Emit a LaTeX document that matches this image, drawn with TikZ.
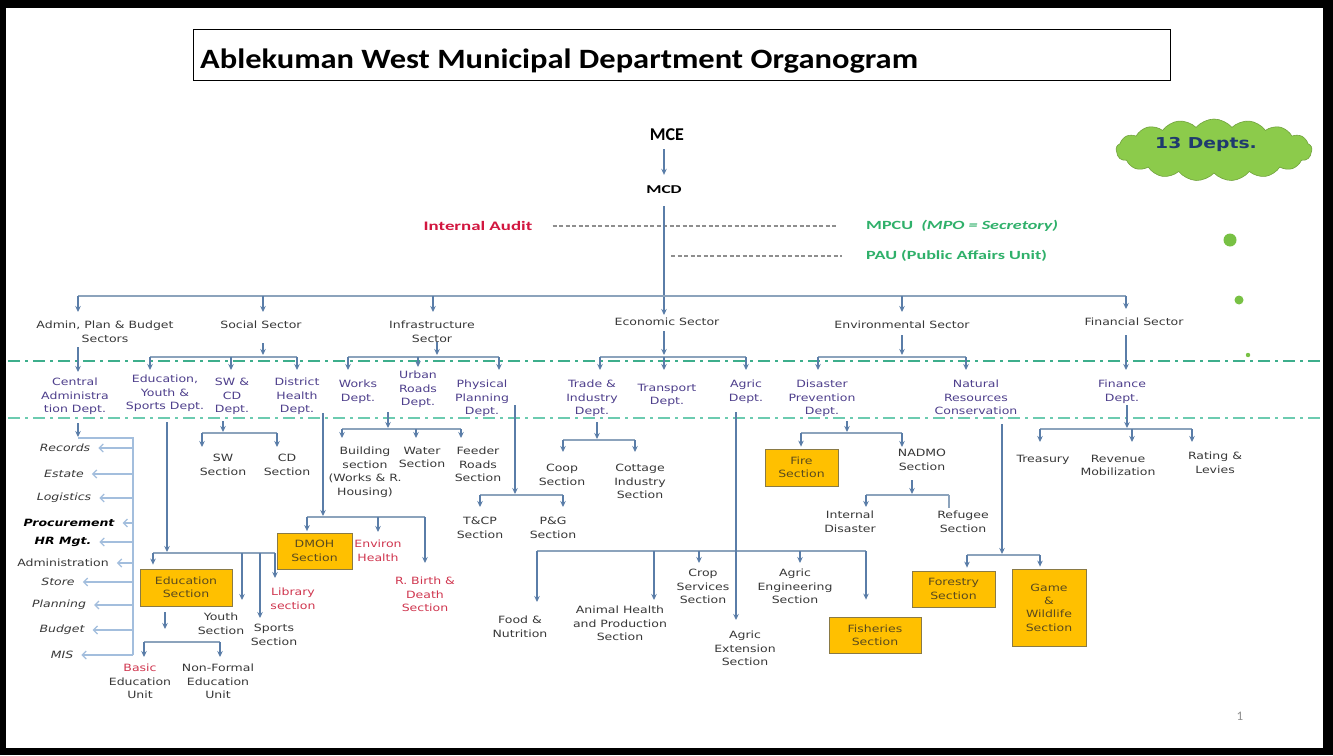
\documentclass[tikz,border=0pt]{standalone}
\usepackage{fontspec}
\usetikzlibrary{arrows.meta,shapes.symbols}
\newfontfamily\dv[FakeStretch=1.25]{DejaVu Sans}
\newfontfamily\cbw[FakeStretch=1.45]{Carlito}
\newfontfamily\cbt[FakeStretch=1.16]{Carlito}
\newfontfamily\cbn{Carlito}
\definecolor{lnc}{HTML}{5A7DA8}
\definecolor{busc}{HTML}{8CA3BC}
\definecolor{lac}{HTML}{A3BEDD}
\definecolor{txt}{HTML}{383838}
\definecolor{deptc}{HTML}{4E3F8C}
\definecolor{redc}{HTML}{D0364F}
\definecolor{iared}{HTML}{D2163F}
\definecolor{grn}{HTML}{2FB06A}
\definecolor{boxf}{HTML}{FFC000}
\definecolor{boxb}{HTML}{8A7A45}
\definecolor{boxt}{HTML}{5A4A1E}
\definecolor{ddone}{HTML}{3DAE8C}
\definecolor{ddtwo}{HTML}{6CCBB0}
\definecolor{dgray}{HTML}{8E8E8E}
\definecolor{cloudg}{HTML}{8CCB4B}
\definecolor{navy}{HTML}{1F3A6E}
\definecolor{dotg}{HTML}{78C144}
\begin{document}
\begin{tikzpicture}[x=1pt,y=-1pt,
  lbl/.style={font=\dv\fontsize{10}{13.4}\selectfont, align=center, inner sep=0pt, text=txt, anchor=north},
  dept/.style={lbl, text=deptc},
  redl/.style={lbl, text=redc},
  lit/.style={font=\dv\itshape\fontsize{10}{12}\selectfont, inner sep=0pt, text=txt},
  litb/.style={font=\dv\bfseries\itshape\fontsize{10}{12}\selectfont, inner sep=0pt, text=black},
  obox/.style={draw=boxb, fill=boxf, line width=0.8pt, font=\dv\fontsize{10}{13.4}\selectfont, text=boxt, align=center, inner sep=0pt},
  ln/.style={draw=lnc, line width=1.4pt},
  arr/.style={ln, -{Stealth[length=6pt,width=5.5pt]}, shorten >=3pt},
  bus/.style={draw=busc, line width=1.6pt},
  lbus/.style={draw=lac, line width=1.4pt},
  larr/.style={draw=lac, line width=1.2pt, -{Straight Barb[length=4pt,width=8pt]}},
  dline/.style={draw=dgray, line width=1.4pt, dash pattern=on 4pt off 2.5pt},
  dd/.style={line width=1.8pt, dash pattern=on 12pt off 5pt on 3pt off 5pt}]
\useasboundingbox (0,0) rectangle (1333,755);
\fill[black] (0,0) rectangle (1333,755);
\fill[white] (6,8) rectangle (1323,748);

% title
\node[draw=black, line width=1pt, minimum width=977pt, minimum height=51pt, inner sep=0pt, fill=white] (tbox) at (681.5,54.5) {};
\node[anchor=base west, font=\cbt\bfseries\fontsize{28}{30}\selectfont, inner sep=0pt] (title) at (200,68) {Ablekuman West Municipal Department Organogram};

% cloud and dots
\node[cloud, cloud puffs=17, cloud puff arc=100, aspect=3.1, fill=cloudg, draw=cloudg!80!black, line width=0.6pt, minimum width=196pt, minimum height=62pt, inner sep=0pt] (cloud) at (1214,150) {};
\node[font=\dv\bfseries\fontsize{15}{16}\selectfont, text=navy, inner sep=0pt] (ctext) at (1206,144) {13 Depts.};
\fill[dotg] (1230,240) circle (6.5pt);
\fill[dotg] (1239,300) circle (4.5pt);
\fill[dotg] (1248,355) circle (2.2pt);

% dash-dot separators
\coordinate (ddLa) at (8,361); \coordinate (ddRa) at (1321,361);
\coordinate (ddLb) at (8,418); \coordinate (ddRb) at (1321,418);
\draw[dd, ddone] (ddLa) -- (ddRa);
\draw[dd, ddtwo] (ddLb) -- (ddRb);

% top
\node[font=\cbn\bfseries\fontsize{18}{20}\selectfont, inner sep=0pt] (mce) at (667,135) {MCE};
\node[font=\cbw\bfseries\fontsize{12}{14}\selectfont, inner sep=0pt] (mcd) at (664,190) {MCD};
\draw[arr, shorten <=8pt, shorten >=11pt] (mcd |- mce.south) -- (mcd.north);
\node[font=\cbw\bfseries\fontsize{13}{15}\selectfont, text=iared, inner sep=0pt] (iaud) at (478,226) {Internal Audit};
\node[anchor=west, font=\cbw\bfseries\fontsize{12.5}{14}\selectfont, text=grn, inner sep=0pt] (mpcu) at (866,226) {MPCU\ \ \textit{(MPO = Secretory)}};
\node[anchor=west, font=\cbw\bfseries\fontsize{12.5}{14}\selectfont, text=grn, inner sep=0pt] (pau) at (866,256) {PAU (Public Affairs Unit)};
\draw[dline] ([xshift=20pt]iaud.east) -- ([xshift=-29pt]mpcu.west);
\coordinate (paus) at (671,256);
\draw[dline] (paus) -- ([xshift=-24pt]pau.west);

% sectors
\node[lbl] (admin) at (105,321) {Admin, Plan \& Budget\\Sectors};
\node[lbl] (social) at (261,321) {Social Sector};
\node[lbl] (infra) at (432,321) {Infrastructure\\Sector};
\node[lbl] (econ) at (667,318) {Economic Sector};
\node[lbl] (env) at (902,321) {Environmental Sector};
\node[lbl] (fin) at (1134,318) {Financial Sector};

\draw[arr, shorten <=12pt] (mcd.south) -- (mcd.south |- econ.north);
\coordinate (j0a) at (78,296); \coordinate (j0b) at (263,296); \coordinate (j0c) at (433,296);
\coordinate (j0e) at (902,296); \coordinate (j0f) at (1126,296);
\draw[bus] (j0a) -- (j0f);
\draw[arr, shorten >=9pt] (j0a) -- (j0a |- admin.north);
\draw[arr, shorten >=9pt] (j0b) -- (j0b |- social.north);
\draw[arr, shorten >=9pt] (j0c) -- (j0c |- infra.north);
\draw[arr, shorten >=9pt] (j0e) -- (j0e |- env.north);
\draw[arr, shorten >=9pt] (j0f) -- (j0f |- fin.north);

% departments
\node[dept] (cadm) at (75,378) {Central\\Administra\\tion Dept.};
\node[dept] (eys) at (165,375) {Education,\\Youth \&\\Sports Dept.};
\node[dept] (swcd) at (232,378) {SW \&\\CD\\Dept.};
\node[dept] (dhd) at (297,378) {District\\Health\\Dept.};
\node[dept] (works) at (358,380) {Works\\Dept.};
\node[dept] (urban) at (418,371) {Urban\\Roads\\Dept.};
\node[dept] (phys) at (482,380) {Physical\\Planning\\Dept.};
\node[dept] (trade) at (592,380) {Trade \&\\Industry\\Dept.};
\node[dept] (trans) at (667,384) {Transport\\Dept.};
\node[dept] (agric) at (746,380) {Agric\\Dept.};
\node[dept] (disp) at (822,380) {Disaster\\Prevention\\Dept.};
\node[dept] (natr) at (976,380) {Natural\\Resources\\Conservation};
\node[dept] (findept) at (1122,380) {Finance\\Dept.};

\coordinate (a1) at (78,347);
\draw[arr, shorten >=6pt] (a1) -- (a1 |- cadm.north);
% social
\coordinate (s1) at (263,343); \coordinate (sbL) at (150,357); \coordinate (sbM) at (231,357); \coordinate (sbR) at (297,357);
\draw[bus] (sbL) -- (sbR);
\draw[arr, shorten >=2pt] (s1) -- (s1 |- sbL);
\draw[arr, shorten >=5pt] (sbL) -- (sbL |- eys.north);
\draw[arr, shorten >=8pt] (sbM) -- (sbM |- swcd.north);
\draw[arr, shorten >=8pt] (sbR) -- (sbR |- dhd.north);
% infra
\coordinate (i1) at (437,342); \coordinate (ibL) at (348,357); \coordinate (ibM) at (418,357); \coordinate (ibR) at (499,357);
\draw[bus] (ibL) -- (ibR);
\draw[arr, shorten >=2pt] (i1) -- (i1 |- ibL);
\draw[arr, shorten >=10pt] (ibL) -- (ibL |- works.north);
\draw[arr, shorten >=4pt] (ibM) -- (ibM |- urban.north);
\draw[arr, shorten >=10pt] (ibR) -- (ibR |- phys.north);
% economic
\coordinate (e1) at (664,331); \coordinate (ebL) at (600,357); \coordinate (ebM) at (664,357); \coordinate (ebR) at (746,357);
\draw[bus] (ebL) -- (ebR);
\draw[arr, shorten >=2pt] (e1) -- (e1 |- ebL);
\draw[arr, shorten >=10pt] (ebL) -- (ebL |- trade.north);
\draw[arr, shorten >=14pt] (ebM) -- (ebM |- trans.north);
\draw[arr, shorten >=10pt] (ebR) -- (ebR |- agric.north);
% environmental
\coordinate (v1) at (902,335); \coordinate (vbL) at (818,357); \coordinate (vbR) at (966,357);
\draw[bus] (vbL) -- (vbR);
\draw[arr, shorten >=2pt] (v1) -- (v1 |- vbL);
\draw[arr, shorten >=10pt] (vbL) -- (vbL |- disp.north);
\draw[arr, shorten >=10pt] (vbR) -- (vbR |- natr.north);
% financial
\coordinate (f1) at (1126,335);
\draw[arr, shorten >=10pt] (f1) -- (f1 |- findept.north);

% ---- Central administration list
\coordinate (c1) at (78,423); \coordinate (c2) at (78,438); \coordinate (c3) at (133,438); \coordinate (c4) at (133,655);
\draw[arr, shorten >=1pt] (c1) -- (c2);
\draw[lbus] (c2) -- (c3) -- (c4);
\node[lit] (rec) at (65,448) {Records};
\node[lit] (est) at (64,474) {Estate};
\node[lit] (log) at (64,498) {Logistics};
\node[litb] (proc) at (69,523) {Procurement};
\node[litb] (hrm) at (63,542) {HR Mgt.};
\node[lit, font=\dv\fontsize{10}{12}\selectfont] (adm) at (63,563) {Administration};
\node[lit] (sto) at (58,582) {Store};
\node[lit] (pla) at (59,605) {Planning};
\node[lit] (bud) at (62,630) {Budget};
\node[lit] (mis) at (62,655) {MIS};
\foreach \n in {rec,est,log,proc,hrm,adm,sto,pla,bud,mis}
  \draw[larr] (\n -| c3) -- ([xshift=8pt]\n.east);

% ---- Education
\coordinate (ed1) at (167,422); \coordinate (edb) at (167,553);
\coordinate (edL) at (153,553); \coordinate (edY) at (242,553); \coordinate (edS) at (260,553); \coordinate (edR) at (275,553);
\draw[bus] (edL) -- (edR);
\draw[arr, shorten >=1pt] (ed1) -- (edb);
\node[obox, minimum width=92pt, minimum height=37pt] (edsec) at (186,587.5) {Education\\Section};
\node[lbl] (youth) at (221,613) {Youth\\Section};
\node[lbl] (sports) at (274,624) {Sports\\Section};
\node[redl] (lib) at (293,588) {Library\\section};
\draw[arr, shorten >=4pt] (edL) -- (edL |- edsec.north);
\draw[arr, shorten >=13pt] (edY) -- (edY |- youth.north);
\draw[arr, shorten >=6pt] (edS) -- (edS |- sports.north);
\draw[arr, shorten >=10pt] (edR) -- (edR |- lib.north);
\coordinate (eu1) at (165,630);
\draw[arr, shorten <=6pt, shorten >=1pt] (eu1 |- edsec.south) -- (eu1);
\coordinate (ebuL) at (144,642); \coordinate (ebuR) at (220,642);
\draw[bus] (ebuL) -- (ebuR);
\node[lbl] (basic) at (140,664) {\textcolor{redc}{Basic}\\Education\\Unit};
\node[lbl] (nonf) at (218,664) {Non-Formal\\Education\\Unit};
\draw[arr, shorten >=7pt] (ebuL) -- (ebuL |- basic.north);
\draw[arr, shorten >=7pt] (ebuR) -- (ebuR |- nonf.north);

% ---- SW & CD
\coordinate (sw1) at (223,421); \coordinate (swL) at (202,433); \coordinate (swR) at (277,433);
\draw[bus] (swL) -- (swR);
\draw[arr, shorten >=1pt] (sw1) -- (sw1 |- swL);
\node[lbl] (swsec) at (223,454) {SW\\Section};
\node[lbl] (cdsec) at (287,454) {CD\\Section};
\draw[arr, shorten >=7pt] (swL) -- (swL |- swsec.north);
\draw[arr, shorten >=7pt] (swR) -- (swR |- cdsec.north);

% ---- District health
\coordinate (dh1) at (323,413); \coordinate (dh2) at (323,517);
\coordinate (dhL) at (307,517); \coordinate (dhM) at (378,517); \coordinate (dhR) at (425,517);
\draw[bus] (dhL) -- (dhR);
\draw[arr, shorten >=1pt] (dh1) -- (dh2);
\node[obox, minimum width=75pt, minimum height=36pt] (dmoh) at (314.5,551) {DMOH\\Section};
\node[redl] (envh) at (378,540) {Environ\\Health};
\node[redl] (rbirth) at (425,577) {R. Birth \&\\Death\\Section};
\draw[arr, shorten >=1.5pt] (dhL) -- (dhL |- dmoh.north);
\draw[arr, shorten >=8pt] (dhM) -- (dhM |- envh.north);
\draw[arr, shorten >=14pt] (dhR) -- (dhR |- rbirth.north);

% ---- Works
\coordinate (w1) at (388,412); \coordinate (wL) at (342,429); \coordinate (wM) at (416,429); \coordinate (wR) at (461,429);
\draw[bus] (wL) -- (wR);
\draw[arr, shorten >=1pt] (w1) -- (w1 |- wL);
\node[lbl] (bld) at (365,447) {Building\\section\\(Works \& R.\\Housing)};
\node[lbl] (wat) at (422,447) {Water\\Section};
\node[lbl] (fdr) at (478,447) {Feeder\\Roads\\Section};
\draw[arr, shorten >=9pt] (wL) -- (wL |- bld.north);
\draw[arr, shorten >=9pt] (wM) -- (wM |- wat.north);
\draw[arr, shorten >=9pt] (wR) -- (wR |- fdr.north);

% ---- Physical planning
\coordinate (p1) at (515,405); \coordinate (pL) at (480,495); \coordinate (pR) at (563,495);
\draw[bus] (pL) -- (pR);
\draw[arr, shorten >=1pt] (p1) -- (p1 |- pL);
\node[lbl] (tcp) at (480,517) {T\&CP\\Section};
\node[lbl] (pgs) at (553,517) {P\&G\\Section};
\draw[arr, shorten >=10pt] (pL) -- (pL |- tcp.north);
\draw[arr, shorten >=10pt] (pR) -- (pR |- pgs.north);

% ---- Trade
\coordinate (t1) at (597,422); \coordinate (tL) at (563,440); \coordinate (tR) at (635,440);
\draw[bus] (tL) -- (tR);
\draw[arr, shorten >=1pt] (t1) -- (t1 |- tL);
\node[lbl] (coop) at (562,464) {Coop\\Section};
\node[lbl] (cott) at (640,464) {Cottage\\Industry\\Section};
\draw[arr, shorten >=12pt] (tL) -- (tL |- coop.north);
\draw[arr, shorten >=12pt] (tR) -- (tR |- cott.north);

% ---- Agric
\coordinate (agL) at (537,551); \coordinate (agA) at (654,551); \coordinate (agC) at (699,551); \coordinate (agE) at (800,551); \coordinate (agR) at (866,551);
\draw[bus] (agL) -- (agR);
\coordinate (ag1) at (736,412);
\node[lbl] (agext) at (745,631) {Agric\\Extension\\Section};
\draw[arr, shorten >=11pt] (ag1) -- (ag1 |- agext.north);
\node[lbl] (food) at (520,616) {Food \&\\Nutrition};
\node[lbl] (anim) at (620,606) {Animal Health\\and Production\\Section};
\node[lbl] (crop) at (703,569) {Crop\\Services\\Section};
\node[lbl] (ageng) at (795,569) {Agric\\Engineering\\Section};
\node[obox, minimum width=92pt, minimum height=36pt] (fish) at (875,635) {Fisheries\\Section};
\draw[arr, shorten >=14pt] (agL) -- (agL |- food.north);
\draw[arr, shorten >=6pt] (agA) -- (agA |- anim.north);
\draw[arr, shorten >=6pt] (agC) -- (agC |- crop.north);
\draw[arr, shorten >=6pt] (agE) -- (agE |- ageng.north);
\draw[arr, shorten >=17pt] (agR) -- (agR |- fish.north);

% ---- Disaster prevention
\coordinate (d1) at (847,421); \coordinate (dL) at (801,433); \coordinate (dR) at (902,433);
\draw[bus] (dL) -- (dR);
\draw[arr, shorten >=1pt] (d1) -- (d1 |- dL);
\node[obox, minimum width=73pt, minimum height=37pt] (fire) at (801.5,467.5) {Fire\\Section};
\node[lbl] (nadmo) at (922,449) {NADMO\\Section};
\draw[arr, shorten >=2pt] (dL) -- (dL |- fire.north);
\draw[arr, shorten >=2pt] (dR) -- (dR |- nadmo.north);
\coordinate (n1) at (912,480); \coordinate (nL) at (866,495); \coordinate (nR) at (949,495);
\draw[bus] (nL) -- (nR);
\draw[arr, shorten >=1pt] (n1) -- (n1 |- nL);
\node[lbl] (idis) at (850,511) {Internal\\Disaster};
\node[lbl] (refu) at (963,511) {Refugee\\Section};
\draw[arr, shorten >=4pt] (nL) -- (nL |- idis.north);
\draw[ln, draw=busc] (nR) -- ([yshift=3pt]nR |- refu.north);

% ---- Natural resources
\coordinate (nr1) at (1002,424); \coordinate (nrL) at (967,555); \coordinate (nrR) at (1040,555);
\draw[bus] (nrL) -- (nrR);
\draw[arr, shorten >=1pt] (nr1) -- (nr1 |- nrL);
\node[obox, minimum width=83pt, minimum height=36pt] (forest) at (953.5,589) {Forestry\\Section};
\node[obox, minimum width=74pt, minimum height=77pt] (game) at (1049,607.5) {Game\\\&\\Wildlife\\Section};
\draw[arr, shorten >=3pt] (nrL) -- (nrL |- forest.north);
\draw[arr, shorten >=2pt] (nrR) -- (nrR |- game.north);

% ---- Finance
\coordinate (fi1) at (1127,405); \coordinate (fL) at (1040,429); \coordinate (fM) at (1132,429); \coordinate (fR) at (1192,429);
\draw[bus] (fL) -- (fR);
\draw[arr, shorten >=1pt] (fi1) -- (fi1 |- fL);
\node[lbl] (treas) at (1043,455) {Treasury};
\node[lbl] (rev) at (1118,455) {Revenue\\Mobilization};
\node[lbl] (rate) at (1215,452) {Rating \&\\Levies};
\draw[arr, shorten >=13pt] (fL) -- (fL |- treas.north);
\draw[arr, shorten >=13pt] (fM) -- (fM |- rev.north);
\draw[arr, shorten >=10pt] (fR) -- (fR |- rate.north);

% page number
\node[font=\cbn\fontsize{13}{14}\selectfont, text=dgray, inner sep=0pt] (pnum) at (1240,716) {1};
\end{tikzpicture}
\end{document}
